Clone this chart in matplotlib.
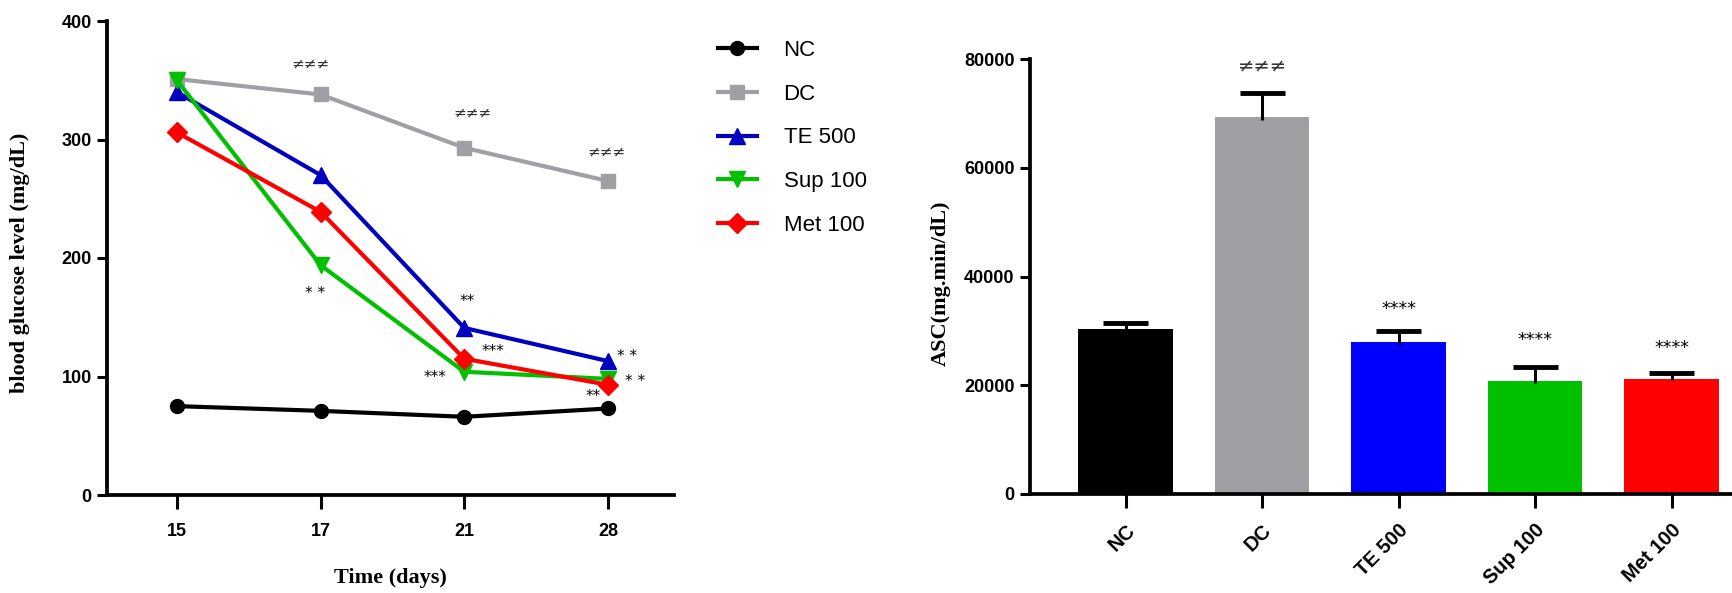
import matplotlib
matplotlib.use("Agg")
import matplotlib.pyplot as plt
from matplotlib.font_manager import FontProperties
import numpy as np

# ---- data ----
days = ["15", "17", "21", "28"]
nc = [75, 71, 66, 73]
dc = [351, 338, 293, 265]
te500 = [340, 270, 141, 113]
sup100 = [350, 194, 104, 98]
met100 = [306, 239, 115, 93]

groups = ["NC", "DC", "TE 500", "Sup 100", "Met 100"]
auc = [30400, 69400, 27900, 20800, 21100]
auc_err = [1100, 4400, 2100, 2600, 1100]

line_colors = ["#000000", "#A0A0A4", "#0000C0", "#00C000", "#FF0000"]
bar_colors = ["#000000", "#A0A0A4", "#0000FF", "#00C000", "#FF0000"]
markers = ["o", "s", "^", "v", "D"]
msizes = [10, 10, 11, 12, 10]

fig = plt.figure(figsize=(17.33, 5.93), dpi=100)

tickfont = dict(family="Liberation Sans", weight="bold", size=13)
labfont = dict(family="Liberation Serif", weight="bold", size=16)

# ---- left: line chart ----
ax = fig.add_axes([107/1733, 1-495/593, 567/1733, 474/593])
x = np.arange(len(days))
series = [nc, dc, te500, sup100, met100]
for vals, c, m, ms, lab in zip(series, line_colors, markers, msizes, groups):
    ax.plot(x, vals, color=c, lw=3, marker=m, ms=ms, label=lab, clip_on=False)

ax.set_xlim(-0.486, 3.46)
ax.set_ylim(0, 400)
ax.set_xticks(x)
ax.set_xticklabels(days)
ax.set_yticks([0, 100, 200, 300, 400])
for s in ["top", "right"]:
    ax.spines[s].set_visible(False)
for s in ["left", "bottom"]:
    ax.spines[s].set_linewidth(2.7)
ax.tick_params(axis="x", length=10, width=2.2, pad=10)
ax.tick_params(axis="y", length=7, width=2.2, pad=4)
for t in ax.get_xticklabels() + ax.get_yticklabels():
    t.set_fontproperties(FontProperties(**tickfont))

ax.set_xlabel("Time (days)", fontdict=labfont)
ax.xaxis.set_label_coords(0.5, -0.155)
ax.set_ylabel("blood glucose level (mg/dL)", fontdict=labfont)
ax.yaxis.set_label_coords(-0.135, 0.49)

neq = dict(fontsize=11, color="#333333", ha="center", va="center")
ast = dict(fontsize=11, color="#000000", ha="center", va="center")
ax.text(0.93, 364, "\u2260\u2260\u2260", **neq)
ax.text(2.06, 322, "\u2260\u2260\u2260", **neq)
ax.text(2.99, 289, "\u2260\u2260\u2260", **neq)
ax.text(0.96, 170, "* *", **ast)
ax.text(2.02, 163, "**", **ast)
ax.text(2.20, 121, "***", **ast)
ax.text(1.80, 99, "***", **ast)
ax.text(3.13, 117, "* *", **ast)
ax.text(3.19, 96, "* *", **ast)
ax.text(2.90, 83, "**", **ast)

fig.legend(loc="upper left", bbox_to_anchor=(718/1733, 1-40/593), frameon=False,
           prop=dict(family="Liberation Sans", size=16), handlelength=1.75,
           handletextpad=1.2, labelspacing=1.02, borderpad=0, borderaxespad=0)

# ---- right: bar chart ----
bx = fig.add_axes([1030/1733, 1-494/593, 703/1733, 435/593])
xb = np.arange(len(groups))
auc_a = np.array(auc)
err_a = np.array(auc_err)
bx.bar(xb, auc_a, width=0.69, color=bar_colors)
bx.errorbar(xb, auc_a + err_a, yerr=[err_a * 1.15, np.zeros(len(auc))], fmt="none",
            ecolor="black", elinewidth=2.2, capsize=0)
bx.hlines(auc_a + err_a, xb - 0.165, xb + 0.165, colors="black", lw=3.5)
bx.set_xlim(-0.70, 4.45)
bx.set_ylim(0, 80000)
bx.set_yticks([0, 20000, 40000, 60000, 80000])
bx.set_xticks(xb)
bx.set_xticklabels(groups, rotation=45, ha="right", rotation_mode="anchor")
for s in ["top", "right"]:
    bx.spines[s].set_visible(False)
for s in ["left", "bottom"]:
    bx.spines[s].set_linewidth(2.7)
bx.tick_params(axis="x", length=10, width=2.2, pad=9)
bx.tick_params(axis="y", length=7, width=2.2, pad=4)
for t in bx.get_yticklabels():
    t.set_fontproperties(FontProperties(**tickfont))
for t in bx.get_xticklabels():
    t.set_fontproperties(FontProperties(family="Liberation Sans", weight="bold", size=14.5))
bx.set_ylabel("ASC(mg.min/dL)", fontdict=labfont)
bx.yaxis.set_label_coords(-0.112, 0.485)

bx.text(1, 78800, "\u2260\u2260\u2260", fontsize=14, color="#333333", ha="center", va="center")
ast2 = dict(fontsize=12.5, color="#000000", ha="center", va="center")
bx.text(2, 34000, "****", **ast2)
bx.text(3, 28300, "****", **ast2)
bx.text(4, 26900, "****", **ast2)

fig.savefig("out.png", dpi=100)
